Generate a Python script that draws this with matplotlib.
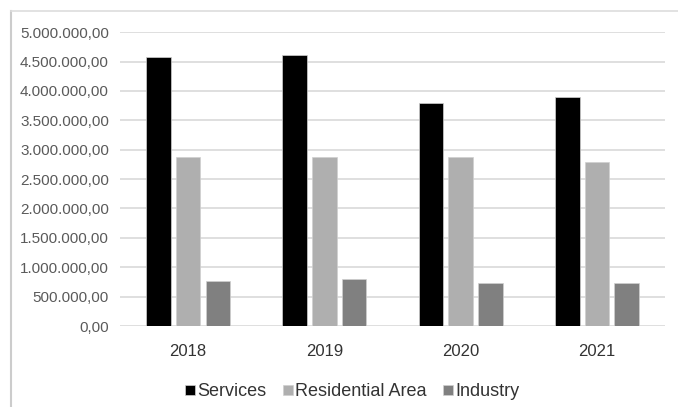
import numpy as np
import matplotlib.pyplot as plt
from matplotlib.lines import Line2D
from matplotlib.ticker import FuncFormatter

# --- data ---
years = ["2018", "2019", "2020", "2021"]
series_names = ["Services", "Residential Area", "Industry"]
services = [4580000, 4610000, 3790000, 3890000]
residential = [2880000, 2880000, 2880000, 2790000]
industry = [770000, 800000, 740000, 740000]
colors = ["#000000", "#afafaf", "#808080"]

plt.rcParams['font.family'] = ['Liberation Sans', 'DejaVu Sans']

fig = plt.figure(figsize=(6.78, 4.07), dpi=100)
ax = fig.add_axes([0.177, 0.199, 0.804, 0.722])

x = np.arange(len(years))
width = 0.18
step = 0.218
for i, (vals, name) in enumerate(zip([services, residential, industry], series_names)):
    ax.bar(x + (i - 1) * step, vals, width, color=colors[i], label=name,
           edgecolor="#d0d0d0", linewidth=0.5, zorder=3)

ax.set_xlim(-0.5, len(years) - 0.5)
ax.set_ylim(0, 5000000)
ax.set_yticks(np.arange(0, 5000001, 500000))


def euro_fmt(v, pos):
    s = f"{v:,.2f}"
    return s.replace(",", "X").replace(".", ",").replace("X", ".")


ax.yaxis.set_major_formatter(FuncFormatter(euro_fmt))
ax.set_xticks(x)
ax.set_xticklabels(years)
ax.grid(axis="y", color="#d9d9d9", linewidth=1.2, zorder=0)
for s in ax.spines.values():
    s.set_visible(False)
ax.tick_params(axis="both", length=0, colors="#5a5a5a")
ax.tick_params(axis="y", labelsize=11, pad=8)
ax.tick_params(axis="x", labelsize=12, pad=13, labelcolor="#333333")

leg = ax.legend(loc="upper center", bbox_to_anchor=(0.426, -0.14), ncol=3, frameon=False,
                fontsize=13, handlelength=0.55, handleheight=0.55, handletextpad=0.15,
                columnspacing=0.9)
for t in leg.get_texts():
    t.set_color("#333333")

# outer frame (left and top edges)
fig.add_artist(Line2D([11 / 678, 11 / 678], [0, 1 - 11 / 407], color="#cccccc", lw=1.5))
fig.add_artist(Line2D([11 / 678, 1], [1 - 11 / 407, 1 - 11 / 407], color="#dddddd", lw=1.2))

fig.savefig("out.png", dpi=100)
